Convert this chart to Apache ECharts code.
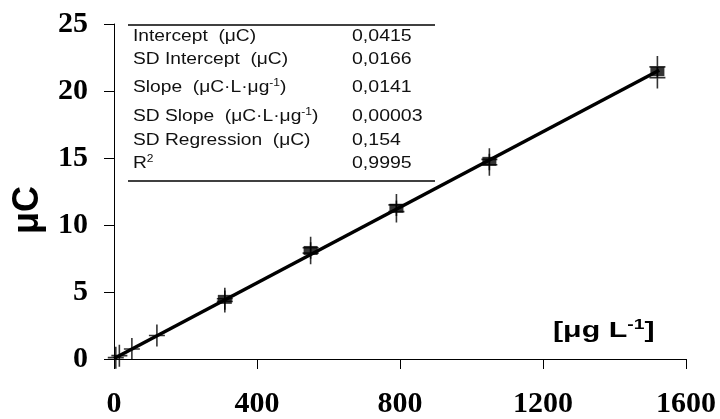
<!DOCTYPE html>
<html><head><meta charset="utf-8">
<script src="https://cdn.jsdelivr.net/npm/echarts@6/dist/echarts.min.js"></script>
<style>html,body{margin:0;padding:0;background:#fff}#c{width:720px;height:419px}</style>
</head><body><div id="c"></div>
<script>
// Replicate measurements (plus markers)
const replicateX = [5, 15, 50, 120, 310, 310, 550, 550, 790, 790, 1050, 1050, 1520, 1520];
const replicateY = [0.1, 0.25, 0.75, 1.75, 4.5, 4.3, 8.3, 7.9, 11.5, 11.0, 14.9, 14.5, 21.8, 21.0];
// Mean values (filled squares)
const meanX = [310, 550, 790, 1050, 1520];
const meanY = [4.45, 8.1, 11.25, 14.75, 21.45];
// Regression
const intercept = 0.0415;
const slope = 0.0141;
const lineX = [0, 1525];
const xTicks = [0, 400, 800, 1200, 1600];
const yTicks = [0, 5, 10, 15, 20, 25];
const yAxisTitle = 'μC';
const xAxisTitle = '[μg L{s|-1}]';
const tableLabels = ['Intercept  (μC)', 'SD Intercept  (μC)', 'Slope  (μC·L·μg{s|-1})', 'SD Slope  (μC·L·μg{s|-1})', 'SD Regression  (μC)', 'R{s|2}'];
const tableValues = ['0,0415', '0,0166', '0,0141', '0,00003', '0,154', '0,9995'];

const chart = echarts.init(document.getElementById('c'));
const plusPath = 'path://M-0.8,-11H0.8V11H-0.8Z M-8,-0.8H8V0.8H-8Z';
const rowY = [37, 60, 88, 117, 141, 164];
const graphics = [
  {type:'line', shape:{x1:128,y1:25,x2:435,y2:25}, style:{stroke:'#000', lineWidth:1.5}},
  {type:'line', shape:{x1:128,y1:181,x2:435,y2:181}, style:{stroke:'#000', lineWidth:1.5}},
  {type:'text', x:553, y:331, scaleX:1.38, style:{text:xAxisTitle, font:'bold 22px "Liberation Sans", Arial', fill:'#000', verticalAlign:'middle',
     rich:{s:{font:'bold 14px "Liberation Sans", Arial', padding:[0,0,12,0]}}}},
  {type:'text', x:28, y:210, rotation:Math.PI/2, style:{text:yAxisTitle, font:'bold 36px "Liberation Sans", Arial', fill:'#000', align:'center', verticalAlign:'middle'}}
];
tableLabels.forEach((t,i)=>{
  graphics.push({type:'text', x:133, y:rowY[i], style:{text:t, font:'16px "Liberation Sans", Arial', fill:'#111', verticalAlign:'middle',
    rich:{s:{font:'10px "Liberation Sans", Arial', padding:[0,0,10,0]}}}, scaleX:1.2});
  graphics.push({type:'text', x:352, y:rowY[i], style:{text:tableValues[i], font:'16px "Liberation Sans", Arial', fill:'#111', verticalAlign:'middle'}, scaleX:1.22});
});

const tickFont = {color:'#000', fontFamily:'"Liberation Serif", "Times New Roman", serif', fontWeight:'bold', fontSize:30};
chart.setOption({
  animation:false,
  grid:{left:114, right:34, top:24, bottom:60},
  xAxis:{type:'value', min:xTicks[0], max:xTicks[xTicks.length-1], interval:xTicks[1]-xTicks[0],
    axisLine:{lineStyle:{color:'#000', width:1}},
    axisTick:{show:true, length:10, lineStyle:{color:'#000'}},
    splitLine:{show:false},
    axisLabel:Object.assign({margin:30, formatter:v=>String(v)}, tickFont)},
  yAxis:{type:'value', min:yTicks[0], max:yTicks[yTicks.length-1], interval:yTicks[1]-yTicks[0],
    axisLine:{show:true, lineStyle:{color:'#000', width:1}},
    axisTick:{show:true, length:10, lineStyle:{color:'#000'}},
    splitLine:{show:false},
    axisLabel:Object.assign({margin:26, formatter:v=>String(v)}, tickFont)},
  series:[
    {type:'line', data:lineX.map(x=>[x, intercept+slope*x]), symbol:'none', lineStyle:{color:'#000', width:3.5}, z:2},
    {type:'scatter', data:meanX.map((x,i)=>[x, meanY[i]]), symbol:'rect', symbolSize:[14,9], itemStyle:{color:'#000'}, z:3},
    {type:'scatter', data:replicateX.map((x,i)=>[x, replicateY[i]]), symbol:plusPath, symbolSize:[16,22], itemStyle:{color:'#000'}, z:4}
  ],
  graphic:graphics
});
</script></body></html>
